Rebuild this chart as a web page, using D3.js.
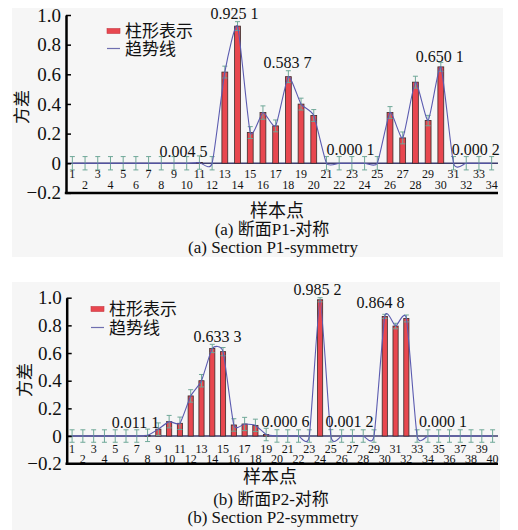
<!DOCTYPE html>
<html><head><meta charset="utf-8">
<script src="https://cdn.jsdelivr.net/npm/d3@7"></script>
<style>
html,body{margin:0;padding:0;background:#fff;}
svg{display:block;}
svg text{font-family:'Liberation Serif','Times New Roman','Noto Sans CJK SC',serif;}
</style></head>
<body>
<svg id="chart" width="518" height="530"></svg>
<script>
// ---------- data ----------
const catsA = [1,2,3,4,5,6,7,8,9,10,11,12,13,14,15,16,17,18,19,20,21,22,23,24,25,26,27,28,29,30,31,32,33,34];
const valsA = [0,0,0,0,0,0,0,0,0,0,0.0045,0,0.615,0.925,0.207,0.342,0.252,0.584,0.399,0.322,0.0001,0,0,0,0.0001,0.342,0.171,0.547,0.288,0.650,0.0002,0,0,0];
const errA  = [0.045,0.045,0.045,0.045,0.045,0.045,0.045,0.045,0.045,0.045,0.045,0.045,0.04,0.03,0.04,0.045,0.04,0.04,0.04,0.04,0.045,0.045,0.045,0.045,0.045,0.04,0.04,0.04,0.035,0.03,0.045,0.045,0.045,0.045];
const notesA = [
  {text:"0.925 1", at:13.77, v:0.972},
  {text:"0.583 7", at:17.94, v:0.643},
  {text:"0.650 1", at:29.91, v:0.681},
  {text:"0.004 5", at:9.75,  v:0.041},
  {text:"0.000 1", at:22.9,  v:0.059},
  {text:"0.000 2", at:32.74, v:0.059}
];

const catsB = [1,2,3,4,5,6,7,8,9,10,11,12,13,14,15,16,17,18,19,20,21,22,23,24,25,26,27,28,29,30,31,32,33,34,35,36,37,38,39,40];
const valsB = [0,0,0,0,0,0,0,0.005,0.05,0.104,0.092,0.29,0.40,0.633,0.61,0.08,0.087,0.077,0.011,0.0006,0,0,0,0.985,0.0012,0,0,0,0,0.865,0.795,0.85,0.0001,0,0,0,0,0,0,0];
const errB  = [0.045,0.045,0.045,0.045,0.045,0.045,0.045,0.045,0.045,0.045,0.045,0.045,0.045,0.03,0.03,0.045,0.048,0.045,0.045,0.045,0.045,0.045,0.045,0.015,0.045,0.045,0.045,0.045,0.045,0.015,0.02,0.025,0.045,0.045,0.045,0.045,0.045,0.045,0.045,0.045];
const notesB = [
  {text:"0.011 1", at:6.88,  v:0.061},
  {text:"0.633 3", at:14.49, v:0.683},
  {text:"0.985 2", at:23.77, v:1.023},
  {text:"0.864 8", at:29.6,  v:0.922},
  {text:"0.000 6", at:20.8,  v:0.064},
  {text:"0.001 2", at:26.73, v:0.064},
  {text:"0.000 1", at:35.4,  v:0.064}
];

const yTicks = [-0.2, 0, 0.2, 0.4, 0.6, 0.8, 1.0];
const legendLabels = ["柱形表示", "趋势线"];
const xTitle = "样本点";
const yTitle = "方差";
const captionsA = ["(a) 断面P1-对称", "(a) Section P1-symmetry"];
const captionsB = ["(b) 断面P2-对称", "(b) Section P2-symmetry"];

// ---------- styles ----------
const BAR_FILL = "#e8474f";
const BAR_STROKE = "#3a2a2a";
const ERR_COL = "#6fa898";
const LINE_COL = "#5b5bb0";

const svg = d3.select("#chart");

function drawPanel(o) {
  const g = svg.append("g");
  g.append("rect").attr("x", o.bg[0]).attr("y", o.bg[1]).attr("width", o.bg[2]).attr("height", o.bg[3]).attr("fill", "#f6f6f6");

  const x = d3.scaleBand().domain(o.cats).range([o.x0, o.x1]).padding(0);
  const xc = d3.scaleLinear().domain([0.5, o.cats.length + 0.5]).range([o.x0, o.x1]);
  const y = d3.scaleLinear().domain([-0.2, 1.0]).range([o.yB, o.yT]);
  const bw = x.bandwidth() * o.barFrac;
  const cx = c => x(c) + x.bandwidth() / 2;

  // zero line
  g.append("line").attr("x1", o.x0).attr("x2", o.x1).attr("y1", y(0)).attr("y2", y(0))
    .attr("stroke", "#3d3d6e").attr("stroke-width", 1.6);

  // bars
  const data = o.cats.map((c, i) => ({c, v: o.vals[i], e: o.err[i]}));
  g.append("g").selectAll("rect").data(data.filter(d => d.v > 0.003)).join("rect")
    .attr("x", d => cx(d.c) - bw / 2).attr("width", bw)
    .attr("y", d => y(d.v)).attr("height", d => y(0) - y(d.v))
    .attr("fill", BAR_FILL).attr("stroke", BAR_STROKE).attr("stroke-width", 0.8);

  // error bars
  const eg = g.append("g").attr("stroke", ERR_COL).attr("stroke-width", 1);
  const capW = 2.5;
  data.forEach(d => {
    const X = cx(d.c);
    eg.append("line").attr("x1", X).attr("x2", X).attr("y1", y(d.v - d.e)).attr("y2", y(d.v + d.e));
    eg.append("line").attr("x1", X - capW).attr("x2", X + capW).attr("y1", y(d.v + d.e)).attr("y2", y(d.v + d.e));
    eg.append("line").attr("x1", X - capW).attr("x2", X + capW).attr("y1", y(d.v - d.e)).attr("y2", y(d.v - d.e));
  });

  // trend line
  const line = d3.line().x(d => cx(d.c)).y(d => y(d.v)).curve(d3.curveCardinal.tension(0.45));
  g.append("path").datum(data).attr("d", line).attr("fill", "none")
    .attr("stroke", LINE_COL).attr("stroke-width", 1.1);

  // y axis
  const ya = d3.axisLeft(y).tickValues(yTicks).tickSizeInner(-5).tickSizeOuter(0).tickPadding(5)
    .tickFormat(d => d === 0 ? "0" : (d < 0 ? "\u2212" + Math.abs(d).toFixed(1) : d.toFixed(1)));
  const yg = g.append("g").attr("transform", `translate(${o.x0},0)`).call(ya);
  yg.select(".domain").attr("stroke", "#000").attr("stroke-width", 2.5);
  yg.selectAll(".tick line").attr("stroke", "#000").attr("stroke-width", 1.5);
  yg.selectAll("text").attr("font-family", null).attr("font-size", 19).attr("fill", "#111");

  // bottom axis line
  g.append("line").attr("x1", o.x0 - 1.2).attr("x2", o.x1).attr("y1", o.yB).attr("y2", o.yB)
    .attr("stroke", "#000").attr("stroke-width", 2.5);

  // x tick labels (alternating rows)
  const xa = d3.axisBottom(x).tickSize(0).tickPadding(0);
  const xg = g.append("g").attr("transform", `translate(0,${y(0)})`).call(xa);
  xg.select(".domain").remove();
  xg.attr("font-family", null);
  xg.selectAll("text").attr("font-size", 12).attr("fill", "#111")
    .attr("dy", null)
    .attr("y", d => (d % 2 === 1) ? o.oddY : o.evenY);

  // annotations
  g.append("g").selectAll("text").data(o.notes).join("text")
    .attr("x", d => xc(d.at)).attr("y", d => y(d.v))
    .attr("text-anchor", "middle").attr("font-size", 16).attr("fill", "#111")
    .text(d => d.text);

  // legend
  const lg = g.append("g").attr("transform", `translate(${o.leg[0]},${o.leg[1]})`);
  lg.append("rect").attr("x", 0).attr("y", -2.5).attr("width", 13).attr("height", 5)
    .attr("fill", BAR_FILL).attr("stroke", "#c53a44").attr("stroke-width", 0.6);
  lg.append("text").attr("x", 18).attr("y", 6).attr("font-size", 17).attr("fill", "#111").text(legendLabels[0]);
  lg.append("line").attr("x1", 0).attr("x2", 13).attr("y1", o.legGap).attr("y2", o.legGap)
    .attr("stroke", "#6f6fb0").attr("stroke-width", 1.2);
  lg.append("text").attr("x", 18).attr("y", o.legGap + 6).attr("font-size", 17).attr("fill", "#111").text(legendLabels[1]);

  // axis titles
  g.append("text").attr("transform", `translate(${o.yTitle[0]},${o.yTitle[1]}) rotate(-90)`)
    .attr("text-anchor", "middle").attr("dy", "0.35em").attr("font-size", 17).attr("fill", "#111").text(yTitle);
  g.append("text").attr("x", o.xTitle[0]).attr("y", o.xTitle[1]).attr("text-anchor", "middle")
    .attr("font-size", 18).attr("fill", "#111").text(xTitle);
  o.captions.forEach((t, i) => {
    g.append("text").attr("x", o.cap[i][0]).attr("y", o.cap[i][1]).attr("text-anchor", "middle")
      .attr("font-size", 17).attr("fill", "#111").text(t);
  });
}

drawPanel({
  cats: catsA, vals: valsA, err: errA, notes: notesA,
  bg: [12, 8, 491, 249],
  x0: 66, x1: 498, yT: 15, yB: 192.9, barFrac: 0.46,
  oddY: 14.5, evenY: 26,
  leg: [107, 31], legGap: 17.5,
  yTitle: [22, 107], xTitle: [277, 217],
  captions: captionsA, cap: [[272, 235], [273, 253]]
});

drawPanel({
  cats: catsB, vals: valsB, err: errB, notes: notesB,
  bg: [12, 282, 488, 248],
  x0: 66.7, x1: 498, yT: 297.7, yB: 463.7, barFrac: 0.48,
  oddY: 16.5, evenY: 26.8,
  leg: [91, 309], legGap: 18.5,
  yTitle: [25, 380], xTitle: [270, 483],
  captions: captionsB, cap: [[271, 505], [273, 523]]
});
</script>
</body></html>
